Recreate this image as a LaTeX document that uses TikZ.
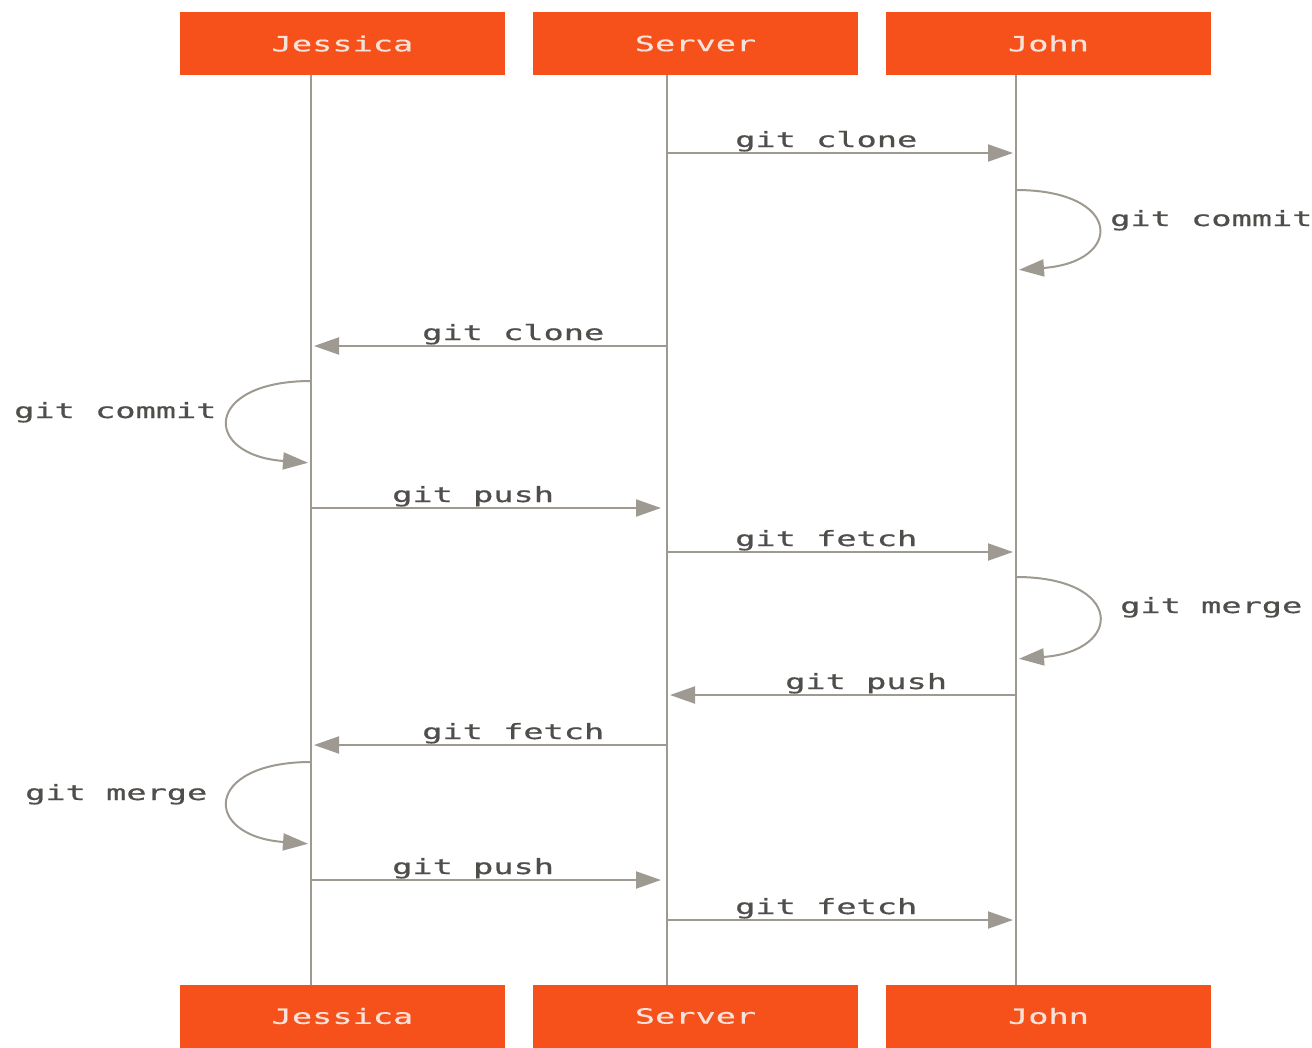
\documentclass[tikz,border=0pt]{standalone}
\usepackage{fontspec}
\usetikzlibrary{arrows.meta}
\newfontfamily\lblfont{DejaVu Sans Mono}[FakeStretch=1.6,FakeBold=0.6]
\newfontfamily\hdrfont{DejaVu Sans Mono}[FakeStretch=1.6,FakeBold=0.4]
\definecolor{hdrfill}{RGB}{246,81,27}
\definecolor{hdrtext}{RGB}{246,226,218}
\definecolor{wire}{RGB}{158,153,145}
\definecolor{lbltext}{RGB}{80,78,75}
\tikzset{
  x=1pt, y=-1pt,
  party/.style={fill=hdrfill, draw=none, minimum width=325pt, minimum height=63pt,
                inner sep=0pt, text=hdrtext, font=\hdrfont\fontsize{21}{22}\selectfont},
  lifeline/.style={draw=wire, line width=2.4pt},
  msg/.style={draw=wire, line width=2pt, shorten >=3pt,
              -{Triangle[length=25pt,width=17pt]}},
  lbl/.style={inner sep=0pt, text=lbltext, font=\lblfont\fontsize{21}{22}\selectfont}
}
\begin{document}
\begin{tikzpicture}
\useasboundingbox (0,0) rectangle (1312,1047);

% participant boxes, top and bottom
\node[party] (jt) at (342.5,43.5) {Jessica};
\node[party] (st) at (695.5,43.5) {Server};
\node[party] (ot) at (1048.5,43.5) {John};
\node[party] (jb) at (342.5,1016) {Jessica};
\node[party] (sb) at (695.5,1016) {Server};
\node[party] (ob) at (1048.5,1016) {John};

% lifeline end points
\coordinate (jT) at (311,75);   \coordinate (jB) at (311,985);
\coordinate (sT) at (667,75);   \coordinate (sB) at (667,985);
\coordinate (oT) at (1016,75);  \coordinate (oB) at (1016,985);
\draw[lifeline] (jT) -- (jB);
\draw[lifeline] (sT) -- (sB);
\draw[lifeline] (oT) -- (oB);

% message anchors on the lifelines
\coordinate (s1) at (667,153);  \coordinate (o1) at (1016,153);
\coordinate (o2a) at (1016,190); \coordinate (o2b) at (1016,270);
\coordinate (s3) at (667,346);  \coordinate (j3) at (311,346);
\coordinate (j4a) at (311,381); \coordinate (j4b) at (311,463);
\coordinate (j5) at (311,508);  \coordinate (s5) at (664,508);
\coordinate (s6) at (667,552);  \coordinate (o6) at (1016,552);
\coordinate (o7a) at (1016,577); \coordinate (o7b) at (1016,659);
\coordinate (o8) at (1016,695); \coordinate (s8) at (667,695);
\coordinate (s9) at (667,745);  \coordinate (j9) at (311,745);
\coordinate (j10a) at (311,762); \coordinate (j10b) at (311,844);
\coordinate (j11) at (311,880); \coordinate (s11) at (664,880);
\coordinate (s12) at (667,920); \coordinate (o12) at (1016,920);

% messages
\draw[msg] (s1) -- (o1);
\draw[msg] (o2a) .. controls (1123,190) and (1124,262) .. (o2b);
\draw[msg] (s3) -- (j3);
\draw[msg] (j4a) .. controls (203,381) and (202,455) .. (j4b);
\draw[msg] (j5) -- (s5);
\draw[msg] (s6) -- (o6);
\draw[msg] (o7a) .. controls (1124,577) and (1124,651) .. (o7b);
\draw[msg] (o8) -- (s8);
\draw[msg] (s9) -- (j9);
\draw[msg] (j10a) .. controls (203,762) and (202,836) .. (j10b);
\draw[msg] (j11) -- (s11);
\draw[msg] (s12) -- (o12);

% labels
\node[lbl, anchor=base west] (l1) at (735,147) {git clone};
\node[lbl, anchor=base west] (l2) at (1110,226) {git commit};
\node[lbl, anchor=base west] (l3) at (422,340) {git clone};
\node[lbl, anchor=base west] (l4) at (14,418) {git commit};
\node[lbl, anchor=base west] (l5) at (392,502) {git push};
\node[lbl, anchor=base west] (l6) at (735,546) {git fetch};
\node[lbl, anchor=base west] (l7) at (1120,613) {git merge};
\node[lbl, anchor=base west] (l8) at (785,689) {git push};
\node[lbl, anchor=base west] (l9) at (422,739) {git fetch};
\node[lbl, anchor=base west] (l10) at (25,800) {git merge};
\node[lbl, anchor=base west] (l11) at (392,874) {git push};
\node[lbl, anchor=base west] (l12) at (735,914) {git fetch};
\end{tikzpicture}
\end{document}
